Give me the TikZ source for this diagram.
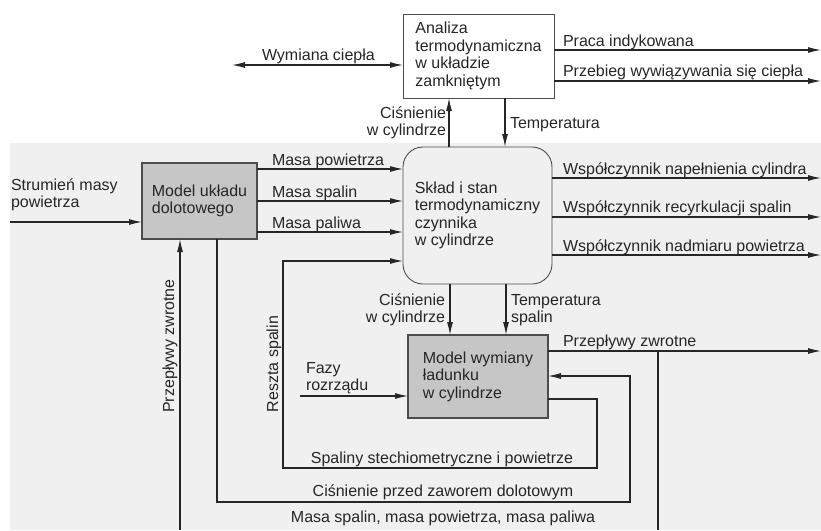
\documentclass[tikz,border=0pt]{standalone}
\usepackage{fontspec}
\setmainfont{Liberation Sans}
\usetikzlibrary{arrows.meta}
\begin{document}
\begin{tikzpicture}[x=1pt,y=-1pt,
  every node/.style={inner sep=0pt, outer sep=0pt, font=\fontsize{16}{17.5}\selectfont, text=black!85},
  ln/.style={draw=black!85, line width=1.1pt},
  arr/.style={ln, -{Latex[length=13pt,width=6pt]}},
  darr/.style={ln, {Latex[length=13pt,width=6pt]}-{Latex[length=13pt,width=6pt]}},
  whitebox/.style={draw=black!70, line width=0.9pt, fill=white, align=left},
  graybox/.style={draw=black!70, line width=1.2pt, fill=gray!45, align=left},
  roundbox/.style={draw=black!70, line width=0.9pt, rounded corners=20pt, align=left},
  lbl/.style={anchor=base west},
  clbl/.style={anchor=base},
  vlbl/.style={anchor=base, rotate=90},
]
\useasboundingbox (0,0) rectangle (821,530);
\fill[gray!12] (10,143) rectangle (821,530);

% boxes
\node[whitebox, minimum width=151pt, minimum height=84pt] (ana) at (478.5,56) {Analiza\\termodynamiczna\\w układzie\\zamkniętym};
\node[roundbox, minimum width=149pt, minimum height=137pt] (sklad) at (477.5,215.5) {Skład i stan\\termodynamiczny\\czynnika\\w cylindrze};
\node[graybox, minimum width=115pt, minimum height=76pt] (dol) at (199.5,201) {Model układu\\dolotowego};
\node[graybox, minimum width=140pt, minimum height=83pt] (wym) at (478,376.5) {Model wymiany\\ładunku\\w cylindrze};

% top connectors
\coordinate (wl) at (232,65);
\draw[darr] (wl) -- (wl -| ana.west);
\coordinate (o1) at (821,50);
\coordinate (o2) at (821,81);
\draw[arr] (o1 -| ana.east) -- (o1);
\draw[arr] (o2 -| ana.east) -- (o2);
\coordinate (c1) at (449,0);
\coordinate (t1) at (505,0);
\draw[arr] (c1 |- sklad.north) -- (c1 |- ana.south);
\draw[arr] (t1 |- ana.south) -- (t1 |- sklad.north);

% outputs of sklad
\coordinate (o3) at (821,178);
\coordinate (o4) at (821,217);
\coordinate (o5) at (821,255);
\draw[arr] (o3 -| sklad.east) -- (o3);
\draw[arr] (o4 -| sklad.east) -- (o4);
\draw[arr] (o5 -| sklad.east) -- (o5);

% inputs to sklad
\coordinate (i1) at (0,169);
\coordinate (i2) at (0,201);
\coordinate (i3) at (0,232);
\draw[arr] (i1 -| dol.east) -- (i1 -| sklad.west);
\draw[arr] (i2 -| dol.east) -- (i2 -| sklad.west);
\draw[arr] (i3 -| dol.east) -- (i3 -| sklad.west);
\coordinate (s0) at (10,222);
\draw[arr] (s0) -- (s0 -| dol.west);

% to wym
\coordinate (c2) at (450,0);
\coordinate (t2) at (506,0);
\draw[arr] (c2 |- sklad.south) -- (c2 |- wym.north);
\draw[arr] (t2 |- sklad.south) -- (t2 |- wym.north);
\coordinate (f0) at (300,396);
\draw[arr] (f0) -- (f0 -| wym.west);

% Reszta spalin loop
\coordinate (r0) at (0,399);
\coordinate (r1) at (597,468);
\coordinate (r2) at (283,261);
\draw[arr] (wym.east |- r0) -| (r1) -| (r2) -- (r2 -| sklad.west);

% Ciśnienie przed zaworem loop
\coordinate (p0) at (217,0);
\coordinate (p1) at (217,502);
\coordinate (p2) at (630,376);
\draw[arr] (p0 |- dol.south) -- (p1) -| (p2) -- (p2 -| wym.east);

% Przepływy zwrotne
\coordinate (z0) at (821,351);
\coordinate (z1) at (658,351);
\coordinate (zb) at (658,530);
\coordinate (zc) at (180,530);
\draw[arr] (z0 -| wym.east) -- (z0);
\draw[ln] (z1) -- (zb);
\draw[arr] (zc) -- (zc |- dol.south);

% labels
\node[lbl] (lwc) at (262,60.5) {Wymiana ciepła};
\node[lbl] (lpi) at (563,46) {Praca indykowana};
\node[lbl] (lpw) at (563,76.5) {Przebieg wywiązywania się ciepła};
\node[anchor=east, align=right] (lc1) at (446,123) {Ciśnienie\\w cylindrze};
\node[lbl] (lt1) at (510,128) {Temperatura};
\node[lbl] (lw1) at (563,174) {Współczynnik napełnienia cylindra};
\node[lbl] (lw2) at (563,212.5) {Współczynnik recyrkulacji spalin};
\node[lbl] (lw3) at (563,251) {Współczynnik nadmiaru powietrza};
\node[lbl] (lm1) at (272,165) {Masa powietrza};
\node[lbl] (lm2) at (272,197) {Masa spalin};
\node[lbl] (lm3) at (272,228) {Masa paliwa};
\node[anchor=west, align=left] (lsm) at (11,195) {Strumień masy\\powietrza};
\node[anchor=east, align=right] (lc2) at (445,310) {Ciśnienie\\w cylindrze};
\node[anchor=west, align=left] (lt2) at (511,310) {Temperatura\\spalin};
\node[anchor=west, align=left] (lfr) at (306,378) {Fazy\\rozrządu};
\node[lbl] (lpz) at (563,346) {Przepływy zwrotne};
\node[clbl] (lsp) at (442,463) {Spaliny stechiometryczne i powietrze};
\node[clbl] (lcp) at (443,496) {Ciśnienie przed zaworem dolotowym};
\node[clbl] (lms) at (443,522) {Masa spalin, masa powietrza, masa paliwa};
\node[vlbl] (lpz2) at (174,346) {Przepływy zwrotne};
\node[vlbl] (lrs) at (278,364) {Reszta spalin};
\end{tikzpicture}
\end{document}
